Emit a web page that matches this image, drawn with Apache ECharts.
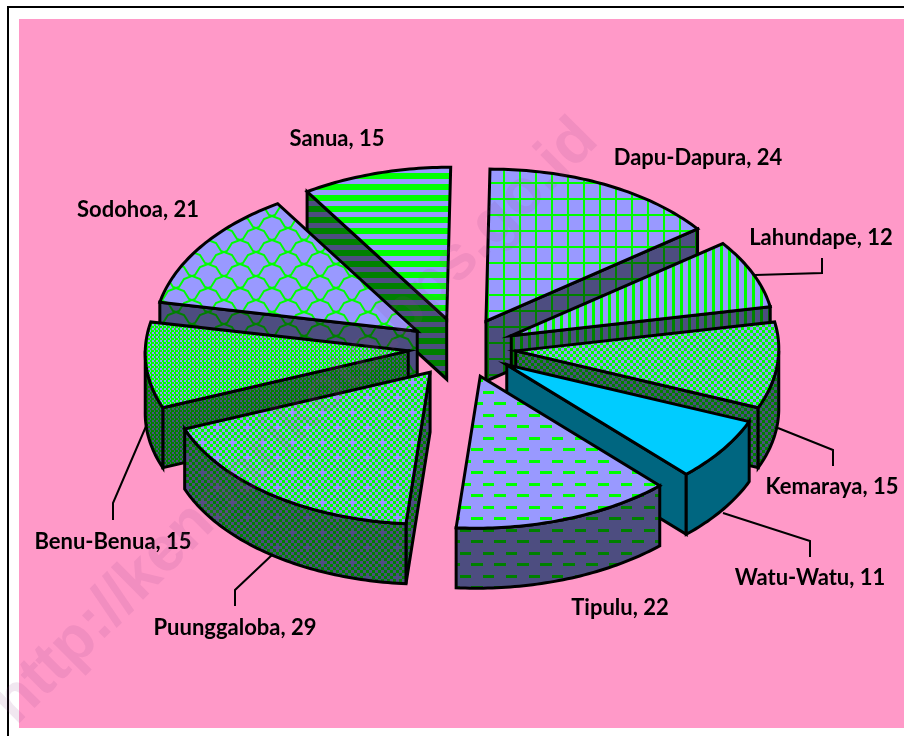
<!DOCTYPE html>
<html>
<head>
<meta charset="utf-8">
<script src="https://cdn.jsdelivr.net/npm/echarts@6/dist/echarts.min.js"></script>
<style>
html, body { margin: 0; padding: 0; background: #fff; }
#chart { width: 904px; height: 736px; }
</style>
</head>
<body>
<div id="chart"></div>
<script>
// data, clockwise from 12 o'clock
const names = ['Dapu-Dapura', 'Lahundape', 'Kemaraya', 'Watu-Watu', 'Tipulu', 'Puunggaloba', 'Benu-Benua', 'Sodohoa', 'Sanua'];
const values = [24, 12, 15, 11, 22, 29, 15, 21, 15];

// label centre + leader line for each slice
const labelPos = [[698, 158], [821, 238], [832, 487], [810, 578], [620, 608], [235, 628], [113, 542], [138, 210], [337, 139]];
const leaders = [
    null,
    [[755, 275], [822, 273], [822, 258]],
    [[778, 428], [833, 450], [833, 466]],
    [[723, 513], [810, 541], [810, 557]],
    null,
    [[272, 555], [235, 590], [235, 606]],
    [[147, 424], [113, 503], [113, 520]],
    null,
    null
];

// pie geometry, TILT leans the ellipse a little like the original 3d view
const CX = 462, CY = 348, RX = 263, RY = 152, TILT = 4, DEPTH = 60, EXPLODE_X = 54, EXPLODE_Y = 30;

const LAV = '#9999ff', GREEN = '#00ff00', DLAV = '#4d4d80', DGREEN = '#008000';

function tile(w, h, draw) {
    const c = document.createElement('canvas');
    c.width = w;
    c.height = h;
    draw(c.getContext('2d'), w, h);
    return { image: c, repeat: 'repeat' };
}

// hatch patterns, fg = stripes colour, bg = base colour
const patterns = [
    // grid
    (fg, bg) => tile(16, 16, (g) => {
        g.fillStyle = bg; g.fillRect(0, 0, 16, 16);
        g.fillStyle = fg; g.fillRect(7, 0, 2, 16); g.fillRect(0, 6, 16, 2);
    }),
    // vertical stripes
    (fg, bg) => tile(8, 8, (g) => {
        g.fillStyle = bg; g.fillRect(0, 0, 8, 8);
        g.fillStyle = fg; g.fillRect(0, 0, 3, 8);
    }),
    // checker 3px
    (fg, bg) => tile(6, 6, (g) => {
        g.fillStyle = bg; g.fillRect(0, 0, 6, 6);
        g.fillStyle = fg; g.fillRect(0, 0, 3, 3); g.fillRect(3, 3, 3, 3);
    }),
    null,
    // dashes
    (fg, bg) => tile(23, 23, (g) => {
        g.fillStyle = bg; g.fillRect(0, 0, 23, 23);
        g.fillStyle = fg;
        g.fillRect(0, 0, 11, 3);
        g.fillRect(11, 11, 12, 3);
    }),
    // checker with lavender crosses
    (fg, bg) => tile(30, 30, (g) => {
        g.fillStyle = bg; g.fillRect(0, 0, 30, 30);
        g.fillStyle = fg;
        for (let y = 0; y < 30; y += 3) {
            for (let x = 0; x < 30; x += 3) {
                if ((x + y) % 6 === 0) g.fillRect(x, y, 3, 3);
            }
        }
        g.fillStyle = bg;
        [[6, 6], [21, 21]].forEach(p => {
            g.fillRect(p[0], p[1] - 3, 3, 9);
            g.fillRect(p[0] - 3, p[1], 9, 3);
        });
    }),
    // fine checker, mostly green
    (fg, bg) => tile(4, 4, (g) => {
        g.fillStyle = fg; g.fillRect(0, 0, 4, 4);
        g.fillStyle = bg; g.fillRect(0, 0, 2, 2); g.fillRect(2, 2, 1, 2);
    }),
    // scales
    (fg, bg) => tile(32, 24, (g) => {
        g.fillStyle = bg; g.fillRect(0, 0, 32, 24);
        g.strokeStyle = fg; g.lineWidth = 2;
        [[0, 0], [16, 12], [32, 0], [0, 24], [32, 24], [16, -12]].forEach(p => {
            g.beginPath();
            g.moveTo(p[0] - 16, p[1]);
            g.lineTo(p[0] - 8, p[1] + 3);
            g.lineTo(p[0] - 3, p[1] + 11);
            g.lineTo(p[0], p[1] + 12);
            g.lineTo(p[0] + 3, p[1] + 11);
            g.lineTo(p[0] + 8, p[1] + 3);
            g.lineTo(p[0] + 16, p[1]);
            g.stroke();
        });
    }),
    // horizontal stripes
    (fg, bg) => tile(11, 11, (g) => {
        g.fillStyle = bg; g.fillRect(0, 0, 11, 11);
        g.fillStyle = fg; g.fillRect(0, 8, 11, 3); g.fillRect(0, 0, 11, 3);
    })
];

const topFills = patterns.map(p => p ? p(GREEN, LAV) : '#00ccff');
const sideFills = patterns.map(p => p ? p(DGREEN, DLAV) : '#006680');

const total = values.reduce((a, b) => a + b, 0);
const rad = Math.PI / 180;

function rimPoint(apex, deg, dy) {
    return [
        apex[0] + RX * Math.sin(deg * rad) + TILT * Math.cos(deg * rad),
        apex[1] - RY * Math.cos(deg * rad) + dy
    ];
}

function arcPoints(apex, from, to, dy) {
    const pts = [];
    const n = Math.max(2, Math.ceil(to - from));
    for (let i = 0; i <= n; i++) {
        pts.push(rimPoint(apex, from + (to - from) * i / n, dy));
    }
    return pts;
}

function edgeStyle(fill) {
    return { fill: fill, stroke: '#000', lineWidth: 3, lineJoin: 'miter' };
}

function renderSlice(params, api) {
    const i = params.dataIndex;
    const start = values.slice(0, i).reduce((a, b) => a + b, 0) / total * 360;
    const end = start + api.value(0) / total * 360;
    const mid = (start + end) / 2;
    const apex = [CX + EXPLODE_X * Math.sin(mid * rad), CY - EXPLODE_Y * Math.cos(mid * rad)];
    const base = Math.round((1 - Math.cos(mid * rad)) * 100) * 10;
    const children = [];
    const wall = (points, z) => children.push({
        type: 'polygon', z2: z, shape: { points: points }, style: edgeStyle(sideFills[i])
    });

    // cut face, only the one that looks toward the viewer
    if (start >= 180) {
        const r = rimPoint(apex, start, 0);
        wall([apex, r, [r[0], r[1] + DEPTH], [apex[0], apex[1] + DEPTH]], base);
    }
    if (end <= 180) {
        const r = rimPoint(apex, end, 0);
        wall([apex, r, [r[0], r[1] + DEPTH], [apex[0], apex[1] + DEPTH]], base);
    }
    // outer wall on the front half
    const a = Math.max(start, 90), b = Math.min(end, 270);
    if (b > a) {
        wall(arcPoints(apex, a, b, 0).concat(arcPoints(apex, a, b, DEPTH).reverse()), base + 1);
    }
    // top face
    children.push({
        type: 'polygon', z2: base + 2,
        shape: { points: [apex].concat(arcPoints(apex, start, end, 0)) },
        style: edgeStyle(topFills[i])
    });

    if (leaders[i]) {
        children.push({
            type: 'polyline', z2: 5000,
            shape: { points: leaders[i] },
            style: { fill: null, stroke: '#000', lineWidth: 2 }
        });
    }
    children.push({
        type: 'text', z2: 5001,
        x: labelPos[i][0], y: labelPos[i][1],
        style: {
            text: names[i] + ', ' + api.value(0),
            fill: '#000',
            font: 'bold 22px Lato',
            align: 'center',
            verticalAlign: 'middle'
        }
    });
    return { type: 'group', children: children };
}

const chart = echarts.init(document.getElementById('chart'));
chart.setOption({
    animation: false,
    graphic: [
        { type: 'rect', z: -10, shape: { x: 19, y: 19, width: 885, height: 709 }, style: { fill: '#ff99c8' } },
        { type: 'rect', z: -9, shape: { x: 7, y: 6, width: 897, height: 2 }, style: { fill: '#000' } },
        { type: 'rect', z: -9, shape: { x: 7, y: 6, width: 2, height: 730 }, style: { fill: '#000' } },
        // watermark
        {
            type: 'text', z: 100, silent: true,
            x: 296, y: 422, rotation: Math.PI / 4,
            style: {
                text: 'http://kendarikota.bps.go.id',
                font: 'bold 63px "Liberation Sans"',
                fill: 'rgba(150,70,140,0.13)',
                align: 'center',
                verticalAlign: 'middle'
            }
        }
    ],
    series: [{
        type: 'custom',
        coordinateSystem: 'none',
        silent: true,
        renderItem: renderSlice,
        data: values
    }]
});
</script>
</body>
</html>
